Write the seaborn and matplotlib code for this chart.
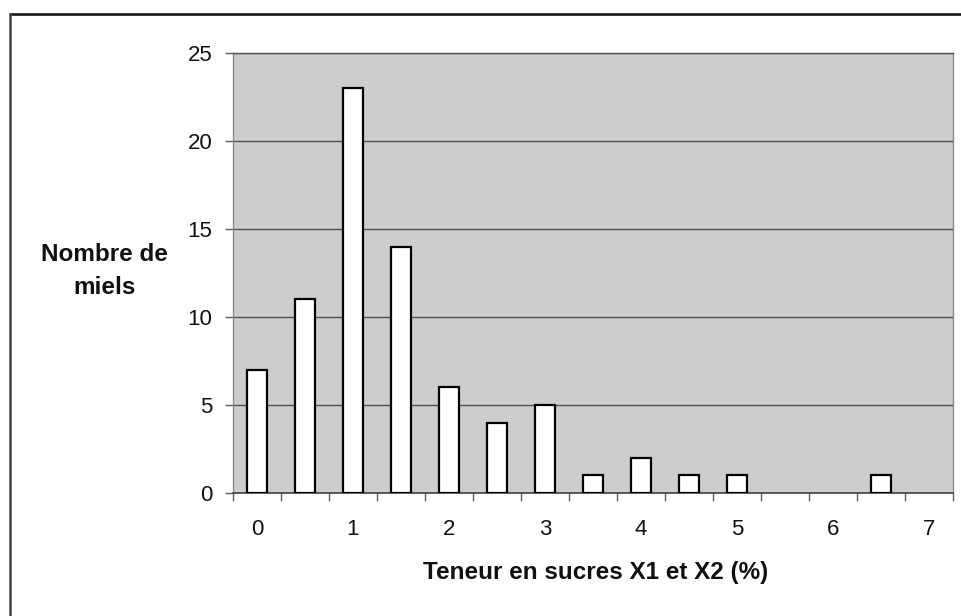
import matplotlib
matplotlib.use("Agg")
import matplotlib.pyplot as plt
from matplotlib.lines import Line2D
from matplotlib.ticker import FixedLocator
import seaborn as sns
import pandas as pd

categories = ["0", "0.5", "1", "1.5", "2", "2.5", "3", "3.5", "4", "4.5",
              "5", "5.5", "6", "6.5", "7"]
counts = [7, 11, 23, 14, 6, 4, 5, 1, 2, 1, 1, 0, 0, 1, 0]
tick_labels = ["0", "", "1", "", "2", "", "3", "", "4", "", "5", "", "6", "", "7"]
y_ticks = [0, 5, 10, 15, 20, 25]

df = pd.DataFrame({"cat": categories, "n": counts})

sns.set_theme(style="white")
plt.rcParams["font.family"] = ["Liberation Sans", "DejaVu Sans"]

fig = plt.figure(figsize=(9.62, 6.16), dpi=100)
ax = fig.add_axes([233/962, 1 - 493/616, 720/962, 440/616])
ax.set_facecolor("#cdcdcd")

sns.barplot(data=df, x="cat", y="n", order=categories, color="white",
            edgecolor="black", linewidth=1.6, width=0.42, saturation=1,
            ax=ax, zorder=3)

# zero-height bars are not drawn in the reference
for patch in ax.patches:
    if patch.get_height() == 0:
        patch.set_linewidth(0)

ax.set_xlim(-0.5, len(categories) - 0.5)
ax.set_ylim(0, 25)
ax.set_yticks(y_ticks)
ax.set_yticklabels([str(v) for v in y_ticks])
ax.set_xticks(range(len(categories)))
ax.set_xticklabels(tick_labels)
ax.xaxis.set_minor_locator(FixedLocator([i + 0.5 for i in range(-1, len(categories))]))

ax.yaxis.grid(True, color="#505050", linewidth=1.0, zorder=1)
ax.set_axisbelow(True)

ax.tick_params(axis="x", which="major", length=0, pad=19, labelsize=16, labelcolor="#111111")
ax.tick_params(axis="x", which="minor", bottom=True, length=6, width=1, color="#606060",
               direction="out")
ax.tick_params(axis="y", which="major", length=6, width=1, color="#606060", pad=9,
               labelsize=16, labelcolor="#111111", left=True)

for side in ["left", "right"]:
    ax.spines[side].set_color("#8a8a8a")
    ax.spines[side].set_linewidth(1.0)
ax.spines["top"].set_color("#505050")
ax.spines["top"].set_linewidth(1.0)
ax.spines["bottom"].set_color("#404040")
ax.spines["bottom"].set_linewidth(1.2)

ax.set_xlabel("Teneur en sucres X1 et X2 (%)", fontsize=17.5, fontweight="bold",
              color="#111111", va="center")
ax.xaxis.set_label_coords(0.504, -0.18)
ax.set_ylabel("Nombre de\nmiels", fontsize=17.5, fontweight="bold", color="#111111",
              rotation=0, ha="center", va="center", multialignment="center",
              linespacing=1.55)
ax.yaxis.set_label_coords(-0.178, 0.505)

# outer chart frame (top and left edges visible)
fig.add_artist(Line2D([10/962, 1.0], [1 - 14/616, 1 - 14/616], transform=fig.transFigure,
                      color="#222222", linewidth=2.0))
fig.add_artist(Line2D([10/962, 10/962], [0.0, 1 - 14/616], transform=fig.transFigure,
                      color="#444444", linewidth=1.8))

fig.savefig("out.png", dpi=100)
